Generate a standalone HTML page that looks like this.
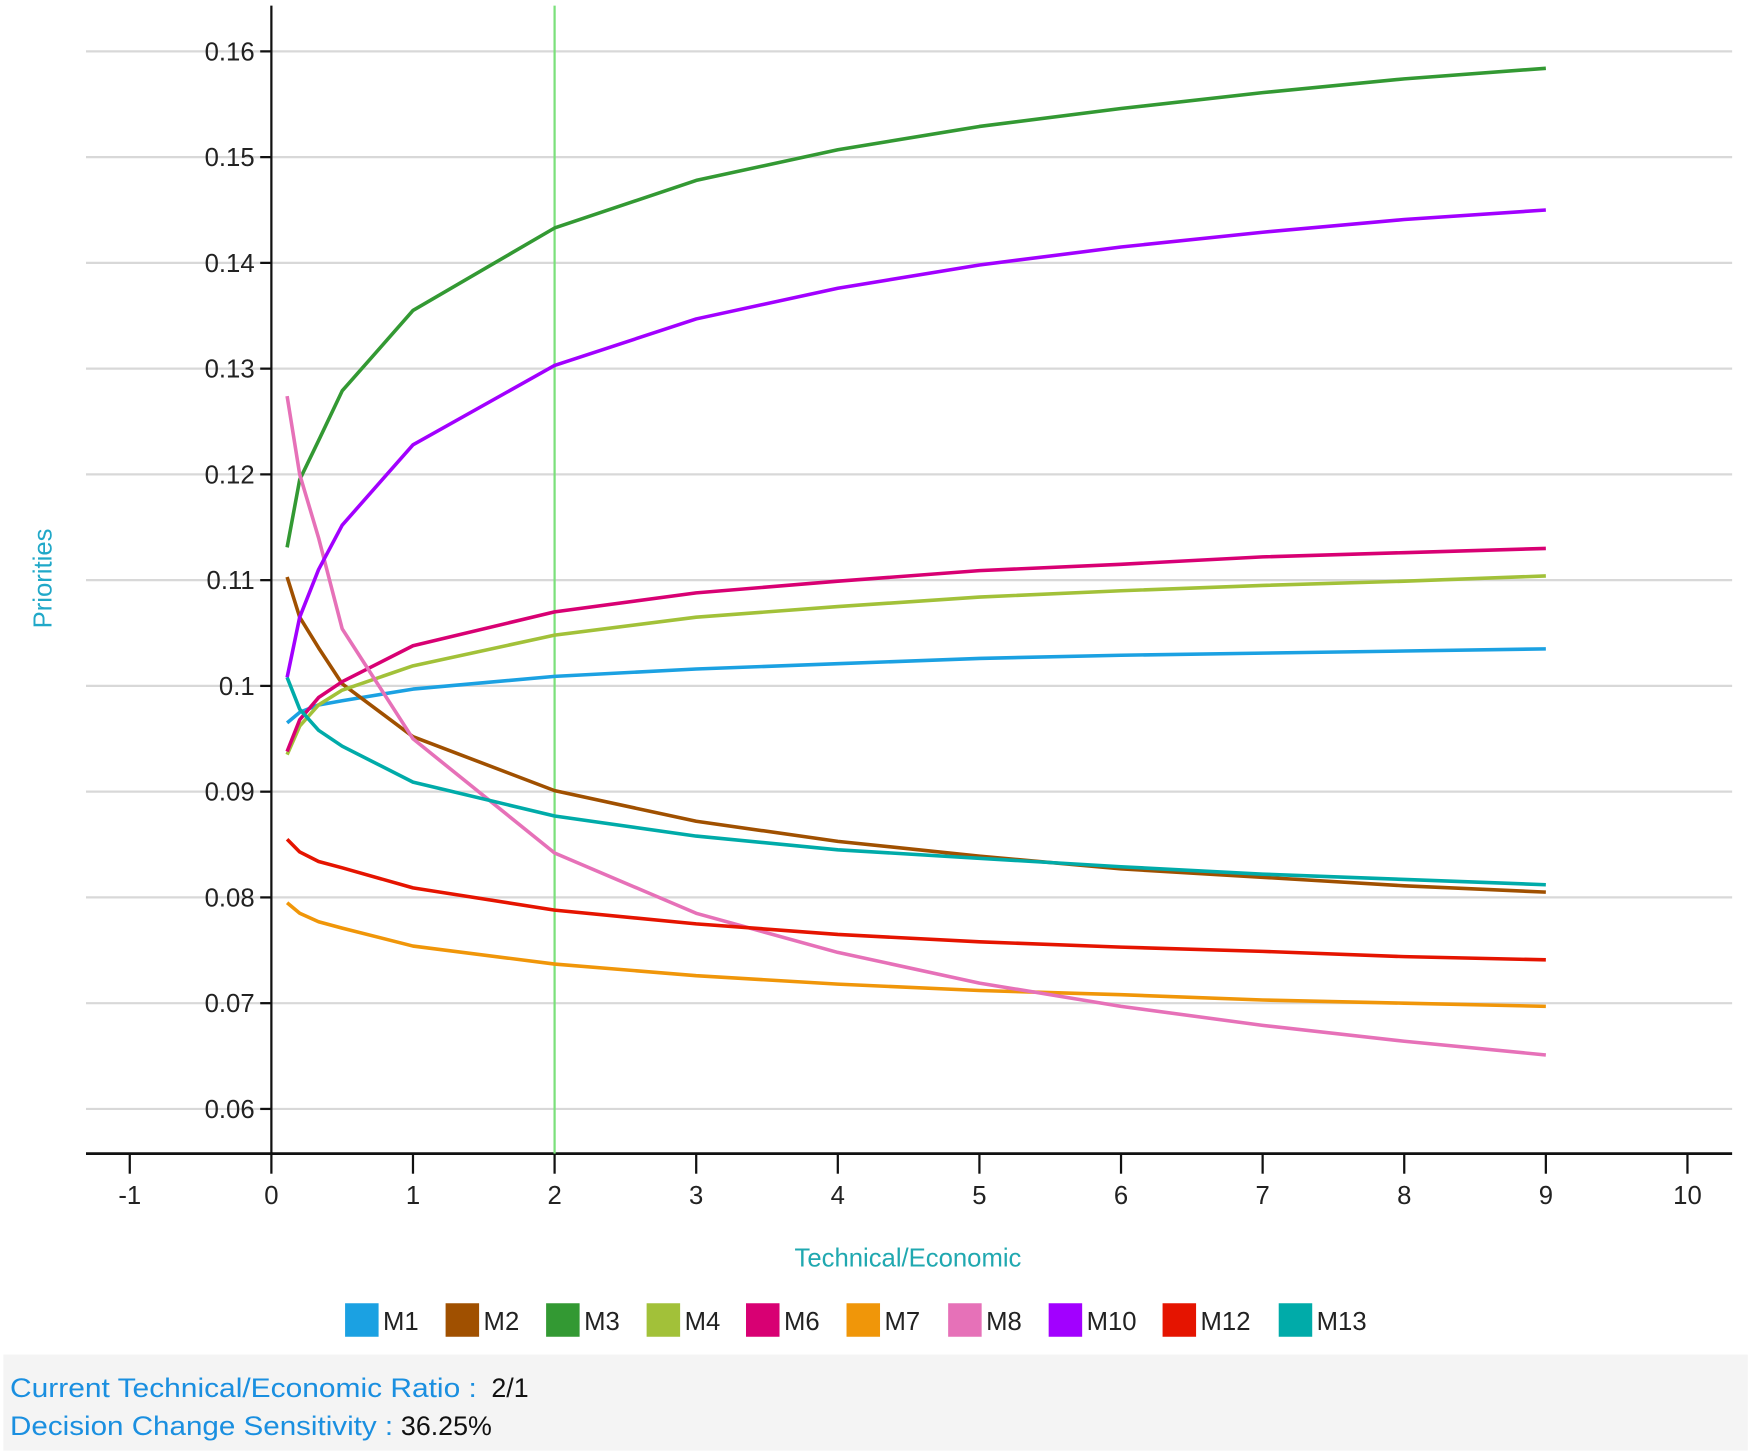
<!DOCTYPE html>
<html><head><meta charset="utf-8"><style>
body{margin:0;background:#fff;}
svg{display:block;font-family:"Liberation Sans",sans-serif;}
</style></head><body>
<svg id="chart" width="1750" height="1451" viewBox="0 0 1567 1299.3" preserveAspectRatio="none" xmlns="http://www.w3.org/2000/svg">
<g id="grid"></g><g id="axes"></g><g id="series"></g><g id="legend"></g>
<rect x="3" y="1213" width="1562" height="86" fill="#f4f4f4"/>
<text x="9" y="1251" font-size="24" fill="#1a8fe0" textLength="418" lengthAdjust="spacingAndGlyphs">Current Technical/Economic Ratio :</text>
<text x="440" y="1251" font-size="24" fill="#111">2/1</text>
<text x="9" y="1285" font-size="24" fill="#1a8fe0" textLength="343" lengthAdjust="spacingAndGlyphs">Decision Change Sensitivity :</text>
<text x="359" y="1285" font-size="24" fill="#111">36.25%</text>
<text x="813" y="1134" font-size="23" fill="#20a8b0" text-anchor="middle">Technical/Economic</text>
<text transform="translate(46,518) rotate(-90)" font-size="23" fill="#20a8c8" text-anchor="middle">Priorities</text>
</svg>
<script>
const xs = [1/9, 0.2, 1/3, 0.5, 1, 2, 3, 4, 5, 6, 7, 8, 9];
const names = ["M1","M2","M3","M4","M6","M7","M8","M10","M12","M13"];
const colors = ["#1ba1e2","#a05000","#339933","#a2c139","#d80073","#f09609","#e671b8","#a200ff","#e51400","#00aba9"];
const M1 = [0.0965,0.0975,0.0982,0.0986,0.0997,0.1009,0.1016,0.1021,0.1026,0.1029,0.1031,0.1033,0.1035];
const M2 = [0.1103,0.1065,0.1036,0.1002,0.0952,0.0901,0.0872,0.0853,0.0839,0.0827,0.0819,0.0811,0.0805];
const M3 = [0.1131,0.1195,0.1232,0.1279,0.1355,0.1433,0.1478,0.1507,0.1529,0.1546,0.1561,0.1574,0.1584];
const M4 = [0.0935,0.0962,0.0982,0.0996,0.1019,0.1048,0.1065,0.1075,0.1084,0.1090,0.1095,0.1099,0.1104];
const M6 = [0.0938,0.0968,0.0989,0.1004,0.1038,0.1070,0.1088,0.1099,0.1109,0.1115,0.1122,0.1126,0.1130];
const M7 = [0.0795,0.0785,0.0777,0.0771,0.0754,0.0737,0.0726,0.0718,0.0712,0.0708,0.0703,0.0700,0.0697];
const M8 = [0.1274,0.1200,0.1140,0.1054,0.0950,0.0842,0.0785,0.0748,0.0719,0.0697,0.0679,0.0664,0.0651];
const M10 = [0.1008,0.1065,0.1110,0.1152,0.1228,0.1303,0.1347,0.1376,0.1398,0.1415,0.1429,0.1441,0.1450];
const M12 = [0.0855,0.0843,0.0834,0.0828,0.0809,0.0788,0.0775,0.0765,0.0758,0.0753,0.0749,0.0744,0.0741];
const M13 = [0.1008,0.0978,0.0958,0.0943,0.0909,0.0877,0.0858,0.0845,0.0837,0.0829,0.0822,0.0817,0.0812];
const seriesData = [M1,M2,M3,M4,M6,M7,M8,M10,M12,M13];
const yTicks = [0.06,0.07,0.08,0.09,0.1,0.11,0.12,0.13,0.14,0.15,0.16];
const yTickLabels = ["0.06","0.07","0.08","0.09","0.1","0.11","0.12","0.13","0.14","0.15","0.16"];
const xTicks = [-1,0,1,2,3,4,5,6,7,8,9,10];
const currentRatio = 2;

const NS="http://www.w3.org/2000/svg";
const X = v => 243 + v*126.8;
const Y = v => 46 + (0.16 - v)*9470;
function mk(tag, attrs, parent){const e=document.createElementNS(NS,tag);for(const k in attrs)e.setAttribute(k,attrs[k]);document.getElementById(parent).appendChild(e);return e;}

yTicks.forEach((t,i)=>{
  const g=mk('line',{x1:77,x2:1551,y1:Y(t),y2:Y(t),stroke:'#d8d8d8','stroke-width':2},'grid');
  
  
  const tk=mk('line',{x1:233,x2:243,y1:Y(t),y2:Y(t),stroke:'#111','stroke-width':2},'axes');
  
  
  const tx=mk('text',{x:228,y:Y(t)+8,'font-size':23,'text-anchor':'end',fill:'#222'},'axes');
  tx.textContent=yTickLabels[i];
  
  
});
xTicks.forEach(t=>{
  const tk=mk('line',{x1:X(t),x2:X(t),y1:1033,y2:1051,stroke:'#111','stroke-width':2},'axes');
  
  
  const tx=mk('text',{x:X(t),y:1078,'font-size':23,'text-anchor':'middle',fill:'#222'},'axes');
  tx.textContent=String(t);
  
  
});
let a=mk('line',{x1:243,x2:243,y1:5,y2:1033,stroke:'#111','stroke-width':2},'axes');


a=mk('line',{x1:77,x2:1551,y1:1033,y2:1033,stroke:'#111','stroke-width':2.5},'axes');


a=mk('line',{x1:X(currentRatio),x2:X(currentRatio),y1:5,y2:1033,stroke:'#7be07b','stroke-width':2},'axes');



seriesData.forEach((d,i)=>{
  const p=mk('polyline',{points:d.map((v,j)=>X(xs[j])+','+Y(v)).join(' '),fill:'none',stroke:colors[i],'stroke-width':3.2,'stroke-linejoin':'round'},'series');
  
  
});
const legX=[309,399,489,579,668,758,849,939,1041,1145];
names.forEach((n,i)=>{
  const r=mk('rect',{x:legX[i],y:1167,width:30,height:30,fill:colors[i]},'legend');
  
  
  const t=mk('text',{x:legX[i]+34,y:1191,'font-size':23,fill:'#222'},'legend');
  t.textContent=n;
  
  
});
</script>
</body></html>
